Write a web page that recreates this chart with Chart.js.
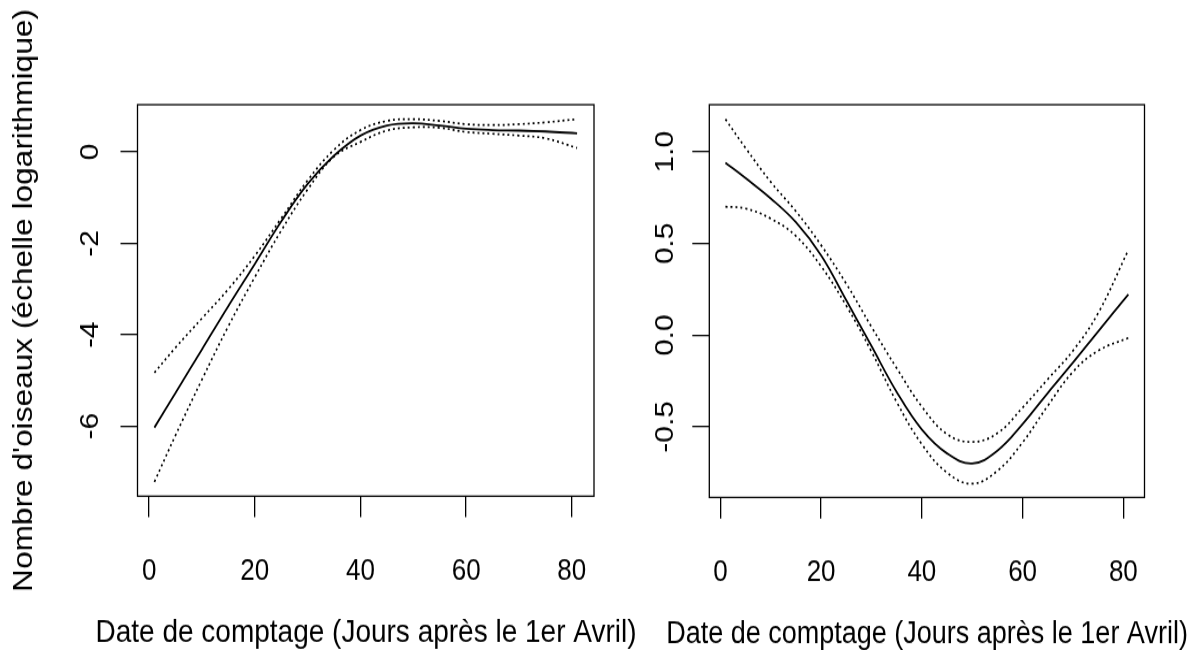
<!DOCTYPE html>
<html>
<head>
<meta charset="utf-8"/>
<style>
  body { margin: 0; background: #fff; overflow: hidden; }
  #holder { position: relative; width: 1193px; height: 650px; overflow: hidden; }
  /* the reference is stretched vertically, so each chart is drawn 565px high and scaled to 650px */
  #holder canvas { position: absolute; top: 0; transform: scaleY(1.1504); transform-origin: 0 0; }
</style>
</head>
<body>
<div id="holder">
  <canvas id="left-chart" width="732" height="565" style="left:0px"></canvas>
  <canvas id="right-chart" width="614" height="565" style="left:600px"></canvas>
</div>

<script src="https://cdn.jsdelivr.net/npm/chart.js@4/dist/chart.umd.min.js"></script>
<script>
// days after 1 April
var days = [1, 5, 10, 15, 20, 25, 30, 35, 40, 45, 50, 55, 60, 65, 70, 75, 81];

// left panel: smooth effect and confidence band
var leftFit   = [-6.03, -5.27, -4.32, -3.37, -2.45, -1.52, -0.70, -0.08, 0.36, 0.58, 0.63, 0.58, 0.51, 0.48, 0.47, 0.45, 0.41];
var leftUpper = [-4.83, -4.28, -3.64, -3.00, -2.27, -1.45, -0.62, 0.05, 0.48, 0.68, 0.72, 0.68, 0.61, 0.59, 0.61, 0.65, 0.72];
var leftLower = [-7.22, -6.20, -4.98, -3.81, -2.74, -1.72, -0.82, -0.10, 0.22, 0.47, 0.54, 0.53, 0.44, 0.40, 0.36, 0.30, 0.09];

// right panel
var rightFit   = [0.94, 0.856, 0.745, 0.615, 0.435, 0.19, -0.06, -0.31, -0.515, -0.645, -0.70, -0.63, -0.485, -0.315, -0.15, 0.02, 0.222];
var rightUpper = [1.177, 1.02, 0.835, 0.675, 0.49, 0.28, 0.045, -0.18, -0.39, -0.54, -0.582, -0.535, -0.395, -0.24, -0.085, 0.12, 0.464];
var rightLower = [0.70, 0.69, 0.635, 0.54, 0.375, 0.16, -0.09, -0.365, -0.595, -0.75, -0.81, -0.74, -0.585, -0.385, -0.20, -0.085, -0.015];

var xTicks = [0, 20, 40, 60, 80];
var xTickLabels = ['0', '20', '40', '60', '80'];
var leftYTicks = [-6, -4, -2, 0];
var leftYTickLabels = ['-6', '-4', '-2', '0'];
var rightYTicks = [-0.5, 0, 0.5, 1];
var rightYTickLabels = ['-0.5', '0.0', '0.5', '1.0'];

var xTitle = 'Date de comptage (Jours après le 1er Avril)';
var yTitle = "Nombre d'oiseaux (échelle logarithmique)";

var FONT = "'Liberation Sans', Arial, sans-serif";

// R style frame around the plot region
var boxPlugin = {
  id: 'box',
  afterDraw: function(chart) {
    var a = chart.chartArea, ctx = chart.ctx;
    ctx.save();
    ctx.strokeStyle = '#000';
    ctx.lineWidth = 1.3;
    ctx.strokeRect(a.left, a.top, a.right - a.left, a.bottom - a.top);
    ctx.restore();
  }
};

function toPoints(ys) {
  return days.map(function(d, i) { return {x: d, y: ys[i]}; });
}

function lineSet(ys, dotted) {
  return {
    data: toPoints(ys),
    yAxisID: 'y',
    borderColor: '#000',
    borderWidth: dotted ? 1.7 : 1.8,
    borderDash: dotted ? [2, 3] : [],
    pointRadius: 0,
    tension: 0.4,
    fill: false
  };
}

function makeChart(id, s) {
  var ctx = document.getElementById(id).getContext('2d');
  return new Chart(ctx, {
    type: 'line',
    data: {
      datasets: [lineSet(s.fit, false), lineSet(s.upper, true), lineSet(s.lower, true)]
    },
    options: {
      responsive: false,
      animation: false,
      events: [],
      layout: { padding: { left: s.padLeft, top: 91, right: 0, bottom: 0 } },
      plugins: {
        legend: { display: false },
        tooltip: { enabled: false },
        // x axis title, centred under the plot region
        title: {
          display: true,
          position: 'bottom',
          text: xTitle,
          color: '#000',
          font: { family: FONT, size: s.xTitleSize, weight: 'normal', lineHeight: 1 },
          padding: { top: 0, bottom: s.xTitlePad }
        }
      },
      scales: {
        x: {
          type: 'linear',
          min: -2.2,
          max: 84.2,
          afterBuildTicks: function(axis) { axis.ticks = xTicks.map(function(v) { return {value: v}; }); },
          afterFit: function(axis) { axis.height = s.xHeight; },
          ticks: {
            autoSkip: false,
            maxRotation: 0,
            padding: 32,
            color: '#000',
            font: { family: FONT, size: 26 },
            callback: function(v) { return xTickLabels[xTicks.indexOf(v)]; }
          },
          grid: { drawOnChartArea: false, drawTicks: true, tickLength: 18.3, color: '#000', tickColor: '#000', lineWidth: 1.3 },
          border: { display: false }
        },
        y: {
          type: 'linear',
          position: 'left',
          min: s.yMin,
          max: s.yMax,
          afterBuildTicks: function(axis) { axis.ticks = s.yTicks.map(function(v) { return {value: v}; }); },
          afterFit: function(axis) { axis.width = s.yWidth; },
          ticks: {
            autoSkip: false,
            minRotation: 90,
            maxRotation: 90,
            crossAlign: 'center',
            padding: s.yPad,
            color: '#000',
            font: { family: FONT, size: 26 },
            callback: function(v) { return s.yLabels[s.yTicks.indexOf(v)]; }
          },
          grid: { drawOnChartArea: false, drawTicks: true, tickLength: 17, color: '#000', tickColor: '#000', lineWidth: 1.3 },
          border: { display: false },
          title: {
            display: s.showYTitle,
            text: yTitle,
            color: '#000',
            font: { family: FONT, size: 27.5, lineHeight: 1 },
            padding: { top: 10.4, bottom: 0 }
          }
        },
        // empty right margin so the bottom title can be centred on the plot
        margin: {
          type: 'linear',
          position: 'right',
          display: true,
          min: 0,
          max: 1,
          afterFit: function(axis) { axis.width = s.rightMargin; },
          ticks: { display: false },
          grid: { display: false },
          border: { display: false }
        }
      }
    },
    plugins: [boxPlugin]
  });
}

makeChart('left-chart', {
  fit: leftFit, upper: leftUpper, lower: leftLower,
  yMin: -7.533, yMax: 1.036, yTicks: leftYTicks, yLabels: leftYTickLabels,
  padLeft: 0, yWidth: 137.5, rightMargin: 138, xHeight: 105, yPad: 17.7,
  xTitleSize: 28, xTitlePad: 0.7, showYTitle: true
});

makeChart('right-chart', {
  fit: rightFit, upper: rightUpper, lower: rightLower,
  yMin: -0.885, yMax: 1.256, yTicks: rightYTicks, yLabels: rightYTickLabels,
  padLeft: 40, yWidth: 69.3, rightMargin: 69.5, xHeight: 105.6, yPad: 3.7,
  xTitleSize: 27, xTitlePad: 0, showYTitle: false
});
</script>
</body>
</html>
